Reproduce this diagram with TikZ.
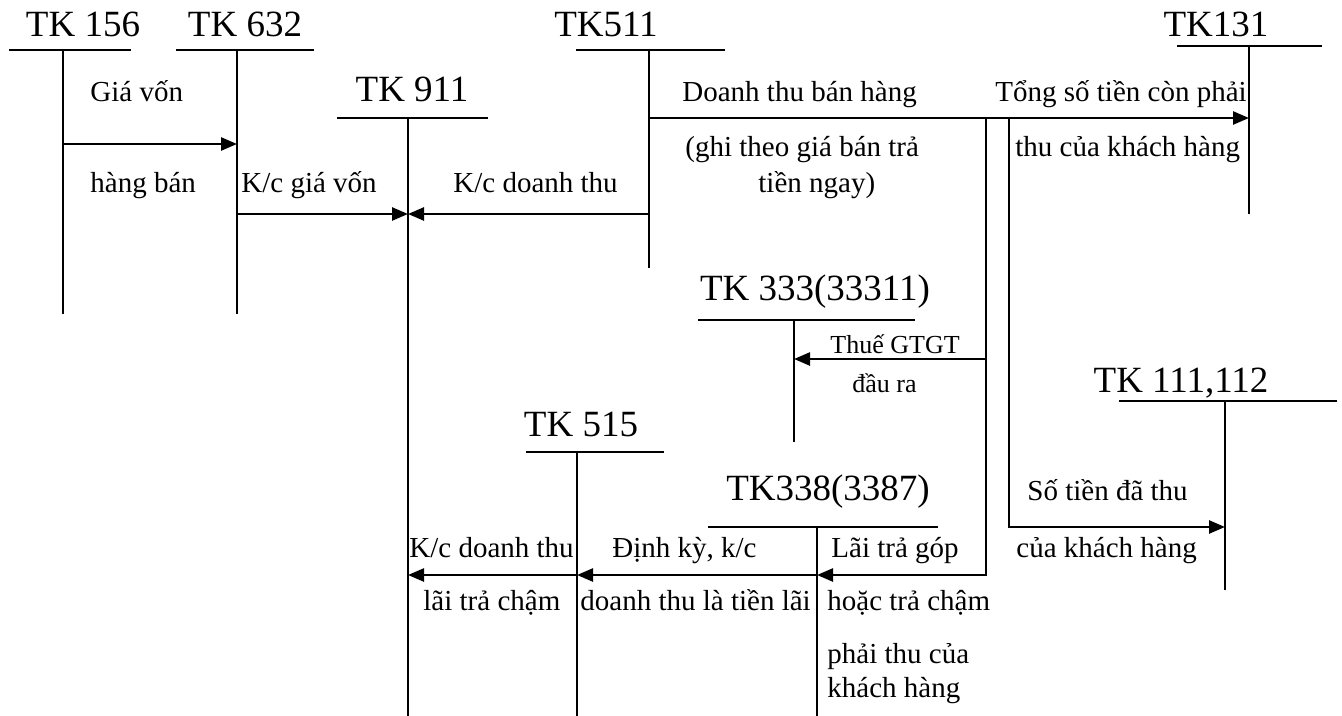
\documentclass[tikz,border=0pt]{standalone}
\usepackage{fontspec}
\setmainfont{Liberation Serif}
\usetikzlibrary{arrows.meta}
\begin{document}
\begin{tikzpicture}[x=0.5pt,y=-0.5pt,
  ln/.style={line width=1.25pt},
  arr/.style={line width=1.25pt,-{Triangle[length=8pt,width=6.5pt]}},
  ttl/.style={font=\fontsize{18.5}{20}\selectfont,anchor=base,inner sep=0pt},
  lbl/.style={font=\fontsize{14.5}{16}\selectfont,anchor=base west,inner sep=0pt},
  sml/.style={font=\fontsize{13}{14}\selectfont,anchor=base west,inner sep=0pt}]
\useasboundingbox (0,0) rectangle (1342,716);
% T-account coordinates
\coordinate (a156) at (63,50);   \coordinate (b156) at (63,314);
\coordinate (a632) at (237,50);  \coordinate (b632) at (237,314);
\coordinate (a911) at (408,118); \coordinate (b911) at (408,716);
\coordinate (a511) at (649,50);  \coordinate (b511) at (649,268);
\coordinate (a131) at (1249,46); \coordinate (b131) at (1249,214);
\coordinate (a333) at (794,320); \coordinate (b333) at (794,442);
\coordinate (a111) at (1225,401);\coordinate (b111) at (1225,590);
\coordinate (a515) at (577,452); \coordinate (b515) at (577,716);
\coordinate (a338) at (817,527); \coordinate (b338) at (817,716);
% titles
\node[ttl] (t156) at (83,37) {TK 156};
\node[ttl] (t632) at (245,37) {TK 632};
\node[ttl] (t911) at (412,102) {TK 911};
\node[ttl] (t511) at (606,37) {TK511};
\node[ttl] (t131) at (1216,37) {TK131};
\node[ttl] (t333) at (815,300) {TK 333(33311)};
\node[ttl] (t111) at (1181,392) {TK 111,112};
\node[ttl] (t515) at (581,436) {TK 515};
\node[ttl] (t338) at (828,500) {TK338(3387)};
% T lines
\draw[ln] (9,50) -- (131,50);    \draw[ln] (a156) -- (b156);
\draw[ln] (176,50) -- (314,50);  \draw[ln] (a632) -- (b632);
\draw[ln] (337,118) -- (488,118);\draw[ln] (a911) -- (b911);
\draw[ln] (576,50) -- (725,50);  \draw[ln] (a511) -- (b511);
\draw[ln] (1177,46) -- (1322,46);\draw[ln] (a131) -- (b131);
\draw[ln] (698,320) -- (915,320);\draw[ln] (a333) -- (b333);
\draw[ln] (1119,401) -- (1337,401);\draw[ln] (a111) -- (b111);
\draw[ln] (526,452) -- (664,452);\draw[ln] (a515) -- (b515);
\draw[ln] (708,527) -- (938,527);\draw[ln] (a338) -- (b338);
% connector points
\coordinate (p1s) at (63,144);  \coordinate (p1e) at (237,144);
\coordinate (p2s) at (237,214); \coordinate (p2e) at (408,214);
\coordinate (p3s) at (649,214);
\coordinate (p4s) at (649,118); \coordinate (p4e) at (1249,118);
\coordinate (q1) at (986,118);  \coordinate (q2) at (986,575);
\coordinate (q3) at (986,359);  \coordinate (q4) at (794,359);
\coordinate (r1) at (1009,118); \coordinate (r2) at (1009,527); \coordinate (r3) at (1225,527);
\coordinate (s1) at (817,575);  \coordinate (s2) at (577,575);  \coordinate (s3) at (408,575);
% arrows
\draw[arr] (p1s) -- (p1e);
\draw[arr] (p2s) -- (p2e);
\draw[arr] (p3s) -- (p2e);
\draw[arr] (p4s) -- (p4e);
\draw[arr] (q1) -- (q2) -- (s1);
\draw[arr] (q3) -- (q4);
\draw[arr] (r1) -- (r2) -- (r3);
\draw[arr] (s1) -- (s2);
\draw[arr] (s2) -- (s3);
% labels
\node[lbl] (l1) at (90,102) {Giá vốn};
\node[lbl] (l2) at (90,193) {hàng bán};
\node[lbl] (l3) at (241,193) {K/c giá vốn};
\node[lbl] (l4) at (453,193) {K/c doanh thu};
\node[lbl] (l5) at (682,102) {Doanh thu bán hàng};
\node[lbl] (l6) at (685,157) {(ghi theo giá bán trả};
\node[lbl] (l7) at (758,193) {tiền ngay)};
\node[lbl] (l8) at (995,102) {Tổng số tiền còn phải};
\node[lbl] (l9) at (1015,157) {thu của khách hàng};
\node[sml] (l10) at (830,353) {Thuế GTGT};
\node[sml] (l11) at (852,392) {đầu ra};
\node[lbl] (l12) at (1027,500) {Số tiền đã thu};
\node[lbl] (l13) at (1016,557) {của khách hàng};
\node[lbl] (l14) at (409,557) {K/c doanh thu};
\node[lbl] (l15) at (423,610) {lãi trả chậm};
\node[lbl] (l16) at (612,557) {Định kỳ, k/c};
\node[lbl] (l17) at (580,610) {doanh thu là tiền lãi};
\node[lbl] (l18) at (831,557) {Lãi trả góp};
\node[lbl] (l19) at (827,610) {hoặc trả chậm};
\node[lbl] (l20) at (827,663) {phải thu của};
\node[lbl] (l21) at (827,697) {khách hàng};
\end{tikzpicture}
\end{document}
